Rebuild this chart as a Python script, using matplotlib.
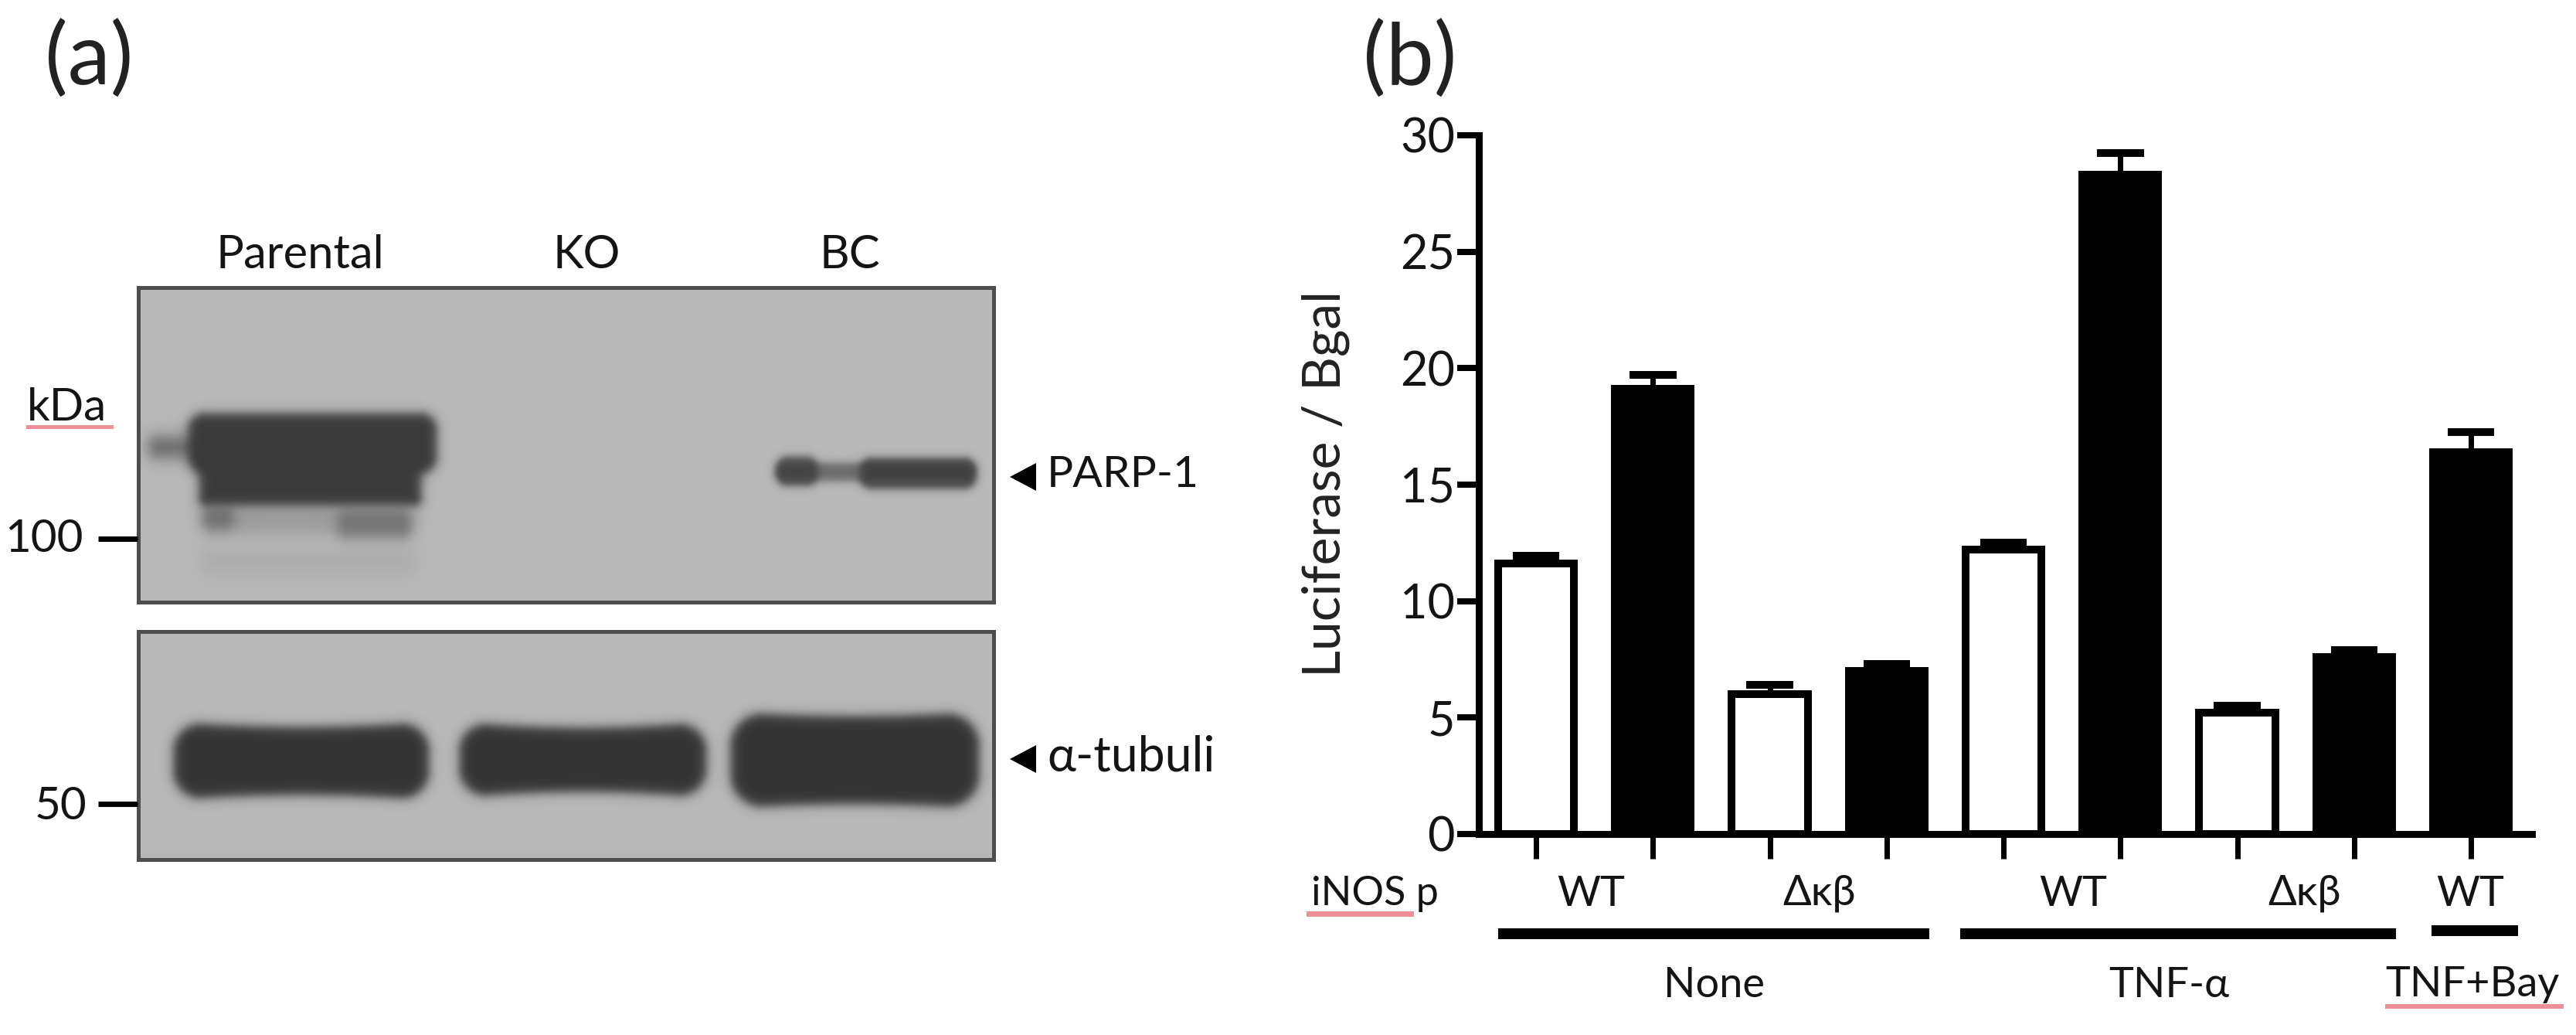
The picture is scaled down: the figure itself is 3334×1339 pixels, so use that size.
import numpy as np
import matplotlib
matplotlib.use("Agg")
import matplotlib.pyplot as plt
from matplotlib.patches import Polygon, Rectangle

plt.rcParams['font.family'] = ['Lato', 'Open Sans', 'DejaVu Sans']

# ---- data ----
bar_values = [11.6, 19.1, 6.0, 7.0, 12.2, 28.3, 5.2, 7.6, 16.4]
err_tops = [11.95, 19.7, 6.4, 7.3, 12.5, 29.25, 5.5, 7.9, 17.25]
bar_filled = [False, True, False, True, False, True, False, True, True]
y_ticks = [0, 5, 10, 15, 20, 25, 30]
promoter_labels = ['WT', 'Δκβ', 'WT', 'Δκβ', 'WT']
treatment_labels = ['None', 'TNF-α', 'TNF+Bay']
lane_labels = ['Parental', 'KO', 'BC']

W, H = 3334, 1339
DPI = 100
PX = 72 / DPI
RED = '#f08f98'
INK = '#141414'
fig = plt.figure(figsize=(W / DPI, H / DPI), dpi=DPI, facecolor='white')

ov = fig.add_axes([0, 0, 1, 1])
ov.set_xlim(0, W)
ov.set_ylim(H, 0)
ov.axis('off')


def sig(t):
    return 1 / (1 + np.exp(-t))


def band(X, Y, x0, x1, y0, y1, s=4.0, sag=0.0, strength=1.0, r=16.0):
    cx, hw = (x0 + x1) / 2, (x1 - x0) / 2
    cy, hh = (y0 + y1) / 2, (y1 - y0) / 2
    r = min(r, hw, hh)
    u = np.clip((X - cx) / hw, -1, 1)
    hh_x = hh - sag * np.cos(np.pi * u / 2)
    dx = np.abs(X - cx) - (hw - r)
    dy = np.abs(Y - cy) - (hh_x - r)
    dist = np.hypot(np.maximum(dx, 0), np.maximum(dy, 0)) + \
        np.minimum(np.maximum(dx, dy), 0) - r
    return strength * sig(-dist / s)


def blot(x0, x1, y0, y1, bands, bg=184, dark=58):
    xs = np.arange(x0, x1)
    ys = np.arange(y0, y1)
    X, Y = np.meshgrid(xs, ys)
    keep = np.ones_like(X, dtype=float)
    for b in bands:
        keep *= 1 - band(X, Y, **b)
    img = dark + (bg - dark) * keep
    ov.imshow(img, extent=(x0, x1, y1, y0), cmap='gray', vmin=0, vmax=255,
              aspect='auto', zorder=1, interpolation='bilinear')
    ov.add_patch(Rectangle((x0, y0), x1 - x0, y1 - y0, fill=False,
                           ec='#4d4d4d', lw=5 * PX, zorder=2))


blot(179, 1286, 372, 779, [
    dict(x0=243, x1=565, y0=534, y1=612, r=22),
    dict(x0=257, x1=545, y0=570, y1=654, r=12),
    dict(x0=192, x1=260, y0=564, y1=592, s=6, strength=0.6),
    dict(x0=262, x1=302, y0=655, y1=684, s=5, strength=0.45),
    dict(x0=436, x1=532, y0=660, y1=696, s=5, strength=0.42),
    dict(x0=262, x1=535, y0=655, y1=690, s=6, strength=0.22),
    dict(x0=262, x1=535, y0=712, y1=742, s=7, strength=0.10),
    dict(x0=1004, x1=1058, y0=590, y1=628, s=3, strength=0.8),
    dict(x0=1004, x1=1262, y0=598, y1=622, s=3, strength=0.6),
    dict(x0=1112, x1=1263, y0=592, y1=632, s=3, strength=0.85),
])
blot(179, 1286, 817, 1112, [
    dict(x0=224, x1=555, y0=934, y1=1034, s=4, sag=6, r=38),
    dict(x0=594, x1=914, y0=934, y1=1031, s=4, sag=7, r=38),
    dict(x0=945, x1=1267, y0=921, y1=1045, s=4, sag=5, r=44),
], dark=52)

TXT = dict(color=INK, zorder=5)
ov.text(58, 78, '(a)', fontsize=80, ha='left', va='center', color='#222222', zorder=5)
ov.text(1764, 78, '(b)', fontsize=80, ha='left', va='center', color='#222222', zorder=5)
for name, x in zip(lane_labels, [388, 759, 1100]):
    ov.text(x, 330, name, fontsize=43, ha='center', va='center', **TXT)
ov.text(86, 528, 'kDa', fontsize=42, ha='center', va='center', **TXT)
ov.plot([36, 144], [552, 552], color=RED, lw=5 * PX, zorder=4)
ov.text(108, 698, '100', fontsize=42, ha='right', va='center', **TXT)
ov.text(112, 1044, '50', fontsize=42, ha='right', va='center', **TXT)
for y in (697, 1040):
    ov.plot([127, 178], [y, y], color='black', lw=7 * PX, solid_capstyle='butt', zorder=4)
for cy, label, size in [(617, 'PARP-1', 41), (982, 'α-tubuli', 45)]:
    ov.add_patch(Polygon([[1307, cy], [1341, cy - 18], [1341, cy + 18]], closed=True,
                         fc='black', ec='none', zorder=4))
    ov.text(1355, cy - 3, label, fontsize=size, ha='left', va='center', **TXT)

# ---- panel (b) bar chart ----
L, R, T, B = 1914, 3277, 175, 1079
axb = fig.add_axes([L / W, 1 - B / H, (R - L) / W, (B - T) / H], facecolor='none')
x0_px, step = 1988, 151.25
axb.set_xlim((L - x0_px) / step, (R - x0_px) / step)
axb.set_ylim(0, 30)
xpos = np.arange(len(bar_values))
lw_bar = 10 * PX
lw_axis = 9 * PX
for x, v, e, f in zip(xpos, bar_values, err_tops, bar_filled):
    axb.plot([x, x], [v, e], color='black', lw=7 * PX, solid_capstyle='butt', zorder=2)
    axb.plot([x - 0.2, x + 0.2], [e, e], color='black', lw=10 * PX,
             solid_capstyle='butt', zorder=2)
    axb.bar(x, v, width=0.65, fc='black' if f else 'white', ec='black',
            lw=lw_bar, zorder=3)
for s in ('top', 'right'):
    axb.spines[s].set_visible(False)
for s in ('left', 'bottom'):
    axb.spines[s].set_linewidth(lw_axis)
axb.set_yticks(y_ticks)
axb.set_xticks(xpos)
axb.set_xticklabels([])
axb.tick_params(axis='y', length=28 * PX, width=8 * PX, labelsize=44, pad=3 * PX,
                labelcolor=INK)
axb.tick_params(axis='x', length=32 * PX, width=7 * PX)
axb.set_axisbelow(False)

ov.set_zorder(2)
ov.patch.set_alpha(0)
ov.text(1716, 626, 'Luciferase / Bgal', fontsize=49, rotation=90, ha='center', va='center',
        color='#222222', zorder=5)
ov.text(1697, 1156, 'iNOS p', fontsize=37.5, ha='left', va='center', **TXT)
ov.plot([1694, 1826], [1182, 1182], color=RED, lw=7 * PX, zorder=4)
for name, x in zip(promoter_labels, [2059, 2355, 2683, 2982, 3197]):
    ov.text(x, 1156, name, fontsize=39, ha='center', va='center', **TXT)
for x0, x1, y in [(1939, 2497, 1208), (2537, 3101, 1208), (3147, 3259, 1204)]:
    ov.plot([x0, x1], [y, y], color='black', lw=14 * PX, solid_capstyle='butt', zorder=4)
for name, x in zip(treatment_labels, [2218, 2807, 3200]):
    ov.text(x, 1274, name, fontsize=39, ha='center', va='center', **TXT)
ov.plot([3090, 3315], [1302, 1302], color=RED, lw=6 * PX, zorder=4)

fig.savefig('out.png', dpi=DPI, facecolor='white')
